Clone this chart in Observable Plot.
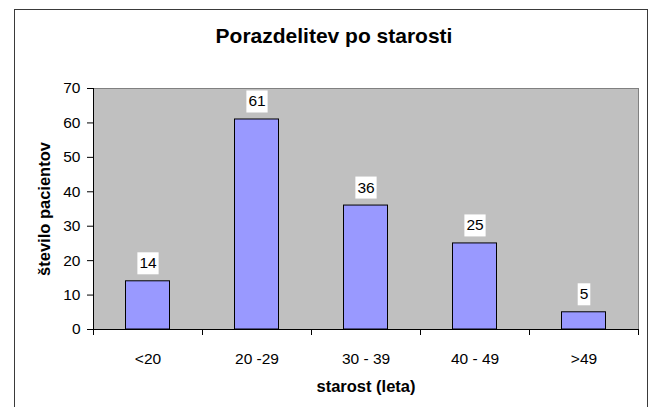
<!DOCTYPE html>
<html>
<head>
<meta charset="utf-8">
<script src="https://cdn.jsdelivr.net/npm/d3@7"></script>
<script src="https://cdn.jsdelivr.net/npm/@observablehq/plot@0.6"></script>
<style>
  html, body { margin: 0; padding: 0; background: #fff; }
  #wrap { position: relative; width: 652px; height: 407px; overflow: hidden; font-family: "Liberation Sans", Arial, sans-serif; }
  #border { position: absolute; left: 14px; top: 9px; width: 634px; height: 420px; border: 1px solid #3a3a3a; box-sizing: border-box; }
  #title { position: absolute; left: 0; top: 25px; width: 668px; text-align: center; font-size: 21px; line-height: 21px; font-weight: bold; color: #000; }
  #chart { position: absolute; left: 0; top: 0; }
</style>
</head>
<body>
<div id="wrap">
  <div id="border"></div>
  <div id="chart"></div>
  <div id="title"></div>
</div>
<script>
const titleText = "Porazdelitev po starosti";
const categories = ["<20", "20 -29", "30 - 39", "40 - 49", ">49"];
const patients = [14, 61, 36, 25, 5];
const yTicks = [0, 10, 20, 30, 40, 50, 60, 70];
const xTitle = "starost (leta)";
const yTitle = "število pacientov";

document.getElementById("title").textContent = titleText;

const data = categories.map((c, i) => ({cat: c, value: patients[i], i}));
const boundaries = d3.range(categories.length + 1);
const centers = categories.map((c, i) => i + 0.5);
const fs = 15.5;

const chart = Plot.plot({
  width: 652,
  height: 407,
  marginLeft: 93,
  marginRight: 14,
  marginTop: 88,
  marginBottom: 78,
  style: {fontFamily: '"Liberation Sans", Arial, sans-serif', fontSize: fs + "px", color: "#000", background: "transparent", overflow: "visible"},
  x: {domain: [0, categories.length], axis: null},
  y: {domain: [0, 70], axis: null},
  marks: [
    Plot.frame({fill: "#C0C0C0", stroke: "#808080"}),
    Plot.rectY(data, {x1: d => d.i, x2: d => d.i + 1, y1: 0, y2: "value", insetLeft: 32.5, insetRight: 32.5, fill: "#9999FF", stroke: "#000", strokeWidth: 1}),
    Plot.ruleY([0], {stroke: "#000"}),
    Plot.ruleX([0], {stroke: "#000"}),
    Plot.axisY({ticks: yTicks, tickSize: 6, tickPadding: 7, tickFormat: d => String(d), label: null, fontSize: fs}),
    Plot.axisX({ticks: boundaries, tickSize: 6, tickFormat: () => "", label: null}),
    Plot.axisX({ticks: centers, tickSize: 0, tickPadding: 23, tickFormat: v => categories[Math.floor(v)], label: null, fontSize: fs}),
    Plot.text(data, {
      x: d => d.i + 0.5, y: "value", text: d => String(d.value), dy: -18, fontSize: fs, fill: "#000",
      render(index, scales, values, dimensions, context, next) {
        const g = next(index, scales, values, dimensions, context);
        const texts = g.querySelectorAll("text");
        texts.forEach((t, k) => {
          const i = index[k];
          const s = t.textContent;
          const w = s.length * 0.556 * fs + 4;
          const r = document.createElementNS("http://www.w3.org/2000/svg", "rect");
          r.setAttribute("x", values.x[i] - w / 2);
          r.setAttribute("y", values.y[i] - 11);
          r.setAttribute("width", w);
          r.setAttribute("height", 22);
          r.setAttribute("fill", "#fff");
          g.insertBefore(r, t);
        });
        return g;
      }
    }),
    Plot.text([xTitle], {frameAnchor: "bottom", lineAnchor: "middle", text: d => d, dy: 57, fontSize: 16.5, fontWeight: "bold", fill: "#000"}),
    Plot.text([yTitle], {frameAnchor: "left", textAnchor: "middle", lineAnchor: "middle", text: d => d, dx: -49, rotate: -90, fontSize: 16.5, fontWeight: "bold", fill: "#000"})
  ]
});
document.getElementById("chart").appendChild(chart);
</script>
</body>
</html>
